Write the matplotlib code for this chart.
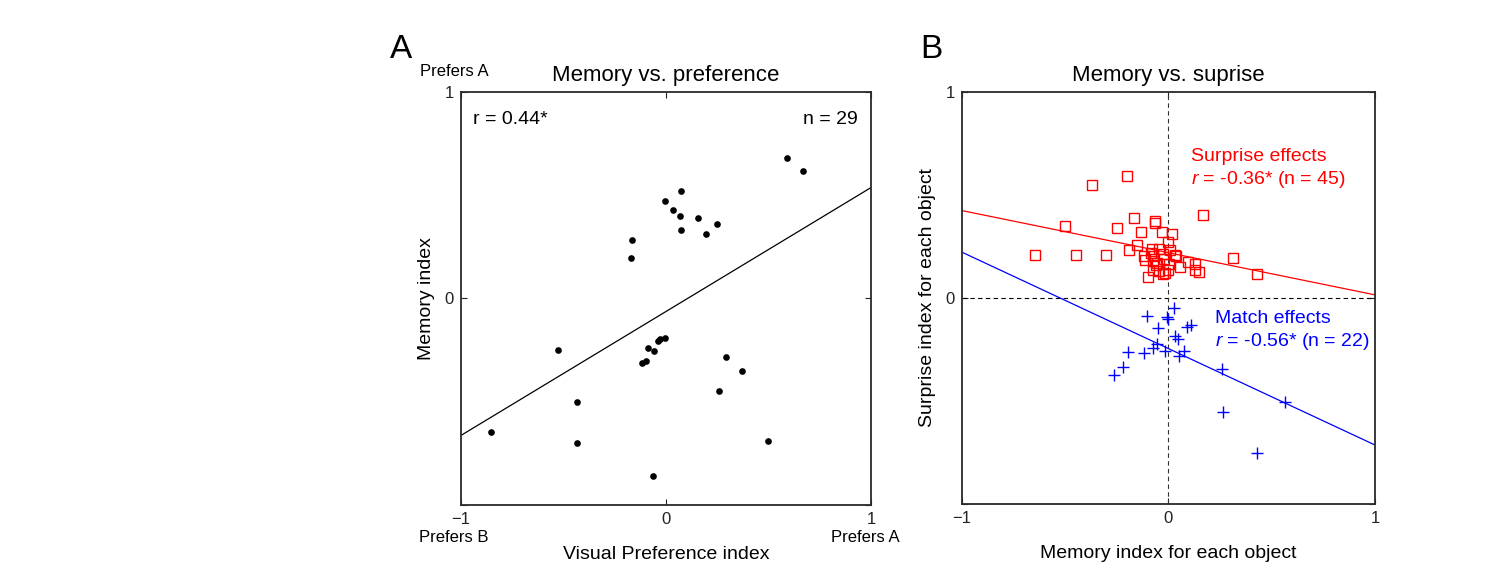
import numpy as np
import matplotlib
matplotlib.use('Agg')
import matplotlib.pyplot as plt

plt.rcParams['font.family'] = ['Liberation Sans', 'DejaVu Sans']
plt.rcParams['mathtext.fontset'] = 'custom'
plt.rcParams['mathtext.rm'] = 'Liberation Sans'
plt.rcParams['mathtext.it'] = 'Liberation Sans:italic'

# Panel A: visual preference vs memory index
pref_x = [0.59, 0.666, 0.075, -0.003, 0.034, 0.068, 0.154, 0.247, 0.075, 0.196,
          -0.166, -0.169, -0.528, -0.003, -0.029, -0.037, -0.089, -0.060, -0.097, -0.115,
          0.291, 0.372, 0.258, -0.433, -0.851, -0.433, 0.498, -0.062]
mem_y = [0.68, 0.617, 0.523, 0.474, 0.430, 0.401, 0.392, 0.359, 0.333, 0.311,
         0.286, 0.197, -0.251, -0.191, -0.197, -0.204, -0.241, -0.256, -0.304, -0.314,
         -0.286, -0.351, -0.451, -0.502, -0.649, -0.701, -0.693, -0.859]
fit_a = (0.602, -0.063)   # slope, intercept

# Panel B: memory vs surprise
surp_x = [-0.645, -0.445, -0.303, -0.5, -0.368, -0.2, -0.166, -0.25, -0.132, -0.063,
          -0.063, -0.029, 0.016, 0.0, -0.15, -0.189, -0.118, -0.111, -0.079, -0.045,
          -0.027, 0.008, 0.032, 0.039, -0.073, -0.06, 0.005, 0.056, 0.094, 0.131,
          0.131, 0.147, 0.311, 0.427, 0.166, -0.1, -0.073, -0.044, -0.027, -0.015,
          -0.003, -0.053, -0.073, -0.021, -0.085]
surp_y = [0.210, 0.210, 0.209, 0.348, 0.546, 0.589, 0.388, 0.340, 0.319, 0.375,
          0.362, 0.319, 0.312, 0.273, 0.257, 0.230, 0.205, 0.184, 0.238, 0.238,
          0.213, 0.234, 0.210, 0.204, 0.181, 0.157, 0.165, 0.152, 0.173, 0.165,
          0.136, 0.124, 0.194, 0.116, 0.401, 0.103, 0.137, 0.128, 0.116, 0.121,
          0.136, 0.168, 0.205, 0.189, 0.220]
match_x = [0.027, -0.103, -0.008, -0.003, -0.052, 0.089, 0.108, 0.032, 0.048, -0.056,
           -0.076, -0.195, -0.118, -0.018, 0.076, 0.052, -0.221, -0.263, 0.260, 0.565,
           0.265, 0.427]
match_y = [-0.050, -0.087, -0.094, -0.103, -0.147, -0.142, -0.134, -0.183, -0.199, -0.223,
           -0.244, -0.265, -0.268, -0.259, -0.259, -0.281, -0.333, -0.375, -0.346, -0.503,
           -0.555, -0.752]
fit_surp = (-0.2045, 0.219)
fit_match = (-0.468, -0.246)

fig = plt.figure(figsize=(14.89, 5.86), dpi=100)
axA = fig.add_axes([0.3094, 0.1388, 0.2758, 0.7037])
axB = fig.add_axes([0.6459, 0.1399, 0.2776, 0.7036])

xx = np.array([-1, 1])


def style(ax):
    ax.set_xlim(-1, 1)
    ax.set_ylim(-1, 1)
    ax.set_xticks([-1, 0, 1])
    ax.set_xticklabels(['\u22121', '0', '1'])
    ax.set_yticks([-1, 0, 1])
    ax.set_yticklabels(['', '0', '1'])
    ax.tick_params(direction='in', length=4, width=0.8, top=True, right=True,
                   labelsize=12, pad=5, colors='#222222')
    for s in ax.spines.values():
        s.set_linewidth(1.3)
        s.set_color('#2a2a2a')


# Panel A
axA.plot(xx, fit_a[0] * xx + fit_a[1], color='black', lw=0.9)
axA.plot(pref_x, mem_y, 'o', color='black', ms=4.8, mec='none')
style(axA)
axA.set_title('Memory vs. preference', fontsize=16, pad=8)
axA.set_ylabel('Memory index', fontsize=14, labelpad=7)
axA.set_xlabel('Visual Preference index', fontsize=14, labelpad=14)
axA.text(0.03, 0.955, 'r = 0.44*', transform=axA.transAxes, fontsize=14, va='top')
axA.text(0.967, 0.955, 'n = 29', transform=axA.transAxes, fontsize=14, va='top', ha='right')
fig.text(454 / 1489, 1 - 72 / 586, 'Prefers A', fontsize=12, ha='center', va='center')
fig.text(454 / 1489, 1 - 537 / 586, 'Prefers B', fontsize=12, ha='center', va='center')
fig.text(865 / 1489, 1 - 537 / 586, 'Prefers A', fontsize=12, ha='center', va='center')
fig.text(401 / 1489, 1 - 50 / 586, 'A', fontsize=24, ha='center', va='center')

# Panel B
axB.axhline(0, color='black', lw=0.8, ls=(0, (4, 3)))
axB.axvline(0, color='#333333', lw=0.8, ls=(0, (4, 3)))
axB.plot(xx, fit_surp[0] * xx + fit_surp[1], color='red', lw=0.9)
axB.plot(xx, fit_match[0] * xx + fit_match[1], color='blue', lw=0.9)
axB.plot(surp_x, surp_y, 's', mfc='none', mec='red', ms=7.5, mew=1.0)
axB.plot(match_x, match_y, '+', color='blue', ms=8, mew=1.0)
style(axB)
axB.set_title('Memory vs. suprise', fontsize=16, pad=8)
axB.set_ylabel('Surprise index for each object', fontsize=14, labelpad=7)
axB.set_xlabel('Memory index for each object', fontsize=14, labelpad=14)
axB.text(0.555, 0.842, 'Surprise effects', transform=axB.transAxes, fontsize=14,
         color='red', va='center')
axB.text(0.555, 0.786, r'$\it{r}$ = -0.36* (n = 45)', transform=axB.transAxes,
         fontsize=14, color='red', va='center')
axB.text(0.612, 0.449, 'Match effects', transform=axB.transAxes, fontsize=14,
         color='blue', va='center')
axB.text(0.612, 0.393, r'$\it{r}$ = -0.56* (n = 22)', transform=axB.transAxes,
         fontsize=14, color='blue', va='center')
fig.text(931 / 1489, 1 - 50 / 586, 'B', fontsize=24, ha='center', va='center')

fig.savefig('out.png', dpi=100)
